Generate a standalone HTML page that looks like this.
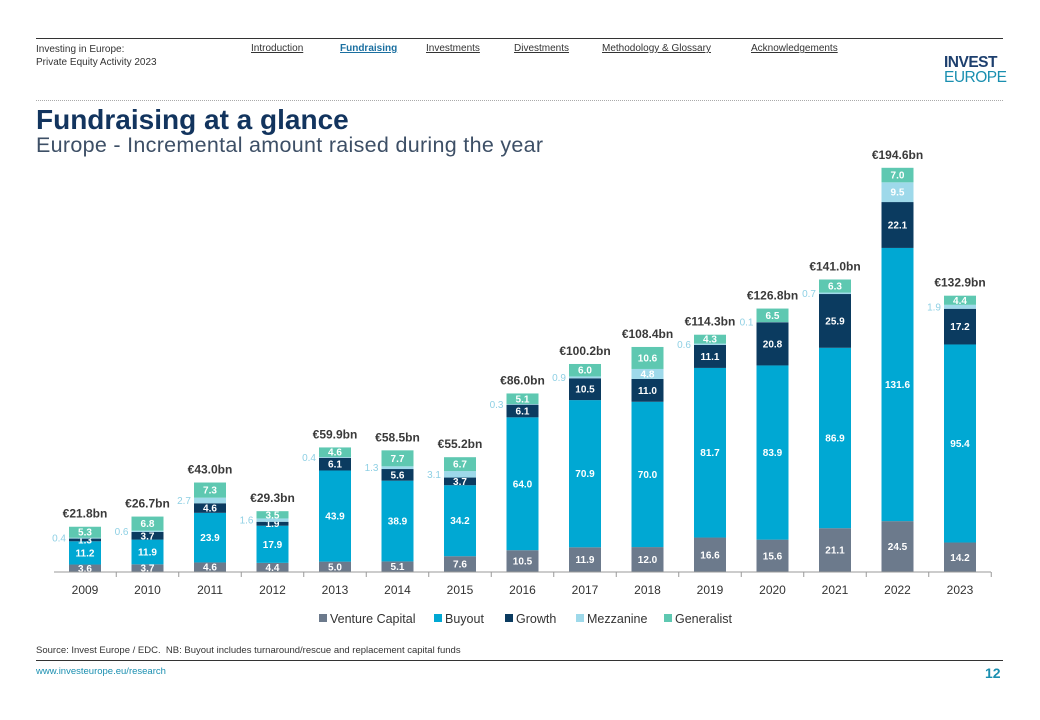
<!DOCTYPE html>
<html><head><meta charset="utf-8"><style>
body{margin:0;width:1040px;height:720px;background:#fff;font-family:"Liberation Sans",sans-serif;position:relative;overflow:hidden}
.a{position:absolute}
.nav{font-size:10px;color:#333;text-decoration:underline;top:43px}
</style></head><body>
<div class="a" style="left:36px;top:38px;width:967px;height:1px;background:#333"></div>
<div class="a" style="left:36px;top:43px;font-size:10px;color:#333;line-height:13px">Investing in Europe:<br>Private Equity Activity 2023</div>
<div class="a nav" style="left:251px">Introduction</div>
<div class="a nav" style="left:340px;color:#1a6fa0;font-weight:bold">Fundraising</div>
<div class="a nav" style="left:426px">Investments</div>
<div class="a nav" style="left:514px">Divestments</div>
<div class="a nav" style="left:602px">Methodology &amp; Glossary</div>
<div class="a nav" style="left:751px">Acknowledgements</div>
<div class="a" style="left:944px;top:55px;font-size:15.5px;line-height:15px;color:#1d3f6e;font-weight:bold;letter-spacing:-0.5px">INVEST<br><span style="font-weight:normal;color:#1a8fb0">EUROPE</span></div>
<div class="a" style="left:36px;top:100px;width:967px;border-top:1px dotted #aaa"></div>
<div class="a" style="left:36px;top:104px;font-size:28px;font-weight:bold;color:#12345e">Fundraising at a glance</div>
<div class="a" style="left:36px;top:133px;font-size:21.5px;letter-spacing:0.3px;color:#3d4f66">Europe - Incremental amount raised during the year</div>
<svg class="a" style="left:0;top:0" width="1040" height="720" id="chart"></svg>
<div class="a" style="left:36px;top:645px;font-size:9.5px;color:#333">Source: Invest Europe / EDC.&nbsp; NB: Buyout includes turnaround/rescue and replacement capital funds</div>
<div class="a" style="left:36px;top:660px;width:967px;height:1px;background:#333"></div>
<div class="a" style="left:36px;top:666px;font-size:9.5px;color:#1a8fb0">www.investeurope.eu/research</div>
<div class="a" style="left:985px;top:665px;font-size:14px;font-weight:bold;color:#1a8fb0">12</div>
<script>
const years=["2009","2010","2011","2012","2013","2014","2015","2016","2017","2018","2019","2020","2021","2022","2023"];
const vc=[3.6,3.7,4.6,4.4,5.0,5.1,7.6,10.5,11.9,12.0,16.6,15.6,21.1,24.5,14.2];
const buyout=[11.2,11.9,23.9,17.9,43.9,38.9,34.2,64.0,70.9,70.0,81.7,83.9,86.9,131.6,95.4];
const growth=[1.3,3.7,4.6,1.9,6.1,5.6,3.7,6.1,10.5,11.0,11.1,20.8,25.9,22.1,17.2];
const mezz=[0.4,0.6,2.7,1.6,0.4,1.3,3.1,0.3,0.9,4.8,0.6,0.1,0.7,9.5,1.9];
const gen=[5.3,6.8,7.3,3.5,4.6,7.7,6.7,5.1,6.0,10.6,4.3,6.5,6.3,7.0,4.4];
const totals=["€21.8bn","€26.7bn","€43.0bn","€29.3bn","€59.9bn","€58.5bn","€55.2bn","€86.0bn","€100.2bn","€108.4bn","€114.3bn","€126.8bn","€141.0bn","€194.6bn","€132.9bn"];
const seriesNames=["Venture Capital","Buyout","Growth","Mezzanine","Generalist"];
const series=[vc,buyout,growth,mezz,gen];
const colors=["#6c7a8c","#00a8d3","#0b3b60","#9ed9ea","#5ec8b1"];
const NS="http://www.w3.org/2000/svg",svg=document.getElementById('chart');
const base=572,k=2.076,x0=85,step=62.5,bw=32;
const y=v=>base-v*k, xc=i=>x0+i*step;
function mk(t,a,txt){const e=document.createElementNS(NS,t);for(const p in a)e.setAttribute(p,a[p]);if(txt!=null)e.textContent=txt;svg.appendChild(e);return e;}
years.forEach((yr,i)=>{
  let cum=0;
  series.forEach((s,j)=>{
    const v=s[i],top=y(cum+v),h=v*k;
    const r=mk('rect',{x:xc(i)-bw/2,y:top,width:bw,height:h,fill:colors[j]});
    
    
    const inside=j!==3||v>=4;
    const t=inside?mk('text',{x:xc(i),y:top+h/2+3.5,'text-anchor':'middle','font-size':10,'font-weight':'bold',fill:'#fff'},v.toFixed(1))
      :mk('text',{x:xc(i)-bw/2-3,y:top+h/2+3.5,'text-anchor':'end','font-size':10,fill:'#8fd0e4'},v.toFixed(1));
    
    
    cum+=v;
  });
  const tt=mk('text',{x:xc(i),y:y(cum)-9,'text-anchor':'middle','font-size':12,'font-weight':'bold',fill:'#3a3a3a'},totals[i]);
  
  
  const yl=mk('text',{x:xc(i),y:594,'text-anchor':'middle','font-size':12,fill:'#333'},yr);
  
  
  const tk=mk('line',{x1:xc(i)+step/2,x2:xc(i)+step/2,y1:base,y2:base+5,stroke:'#999'});
  
  
});
const ax=mk('line',{x1:54,x2:991,y1:base,y2:base,stroke:'#999'});


const lx=[319,434,505,576,664];
seriesNames.forEach((n,j)=>{
  const r=mk('rect',{x:lx[j],y:614,width:8,height:8,fill:colors[j]});
  
  
  const t=mk('text',{x:lx[j]+11,y:623,'font-size':12.5,fill:'#333'},n);
  
  
});
</script>
</body></html>
